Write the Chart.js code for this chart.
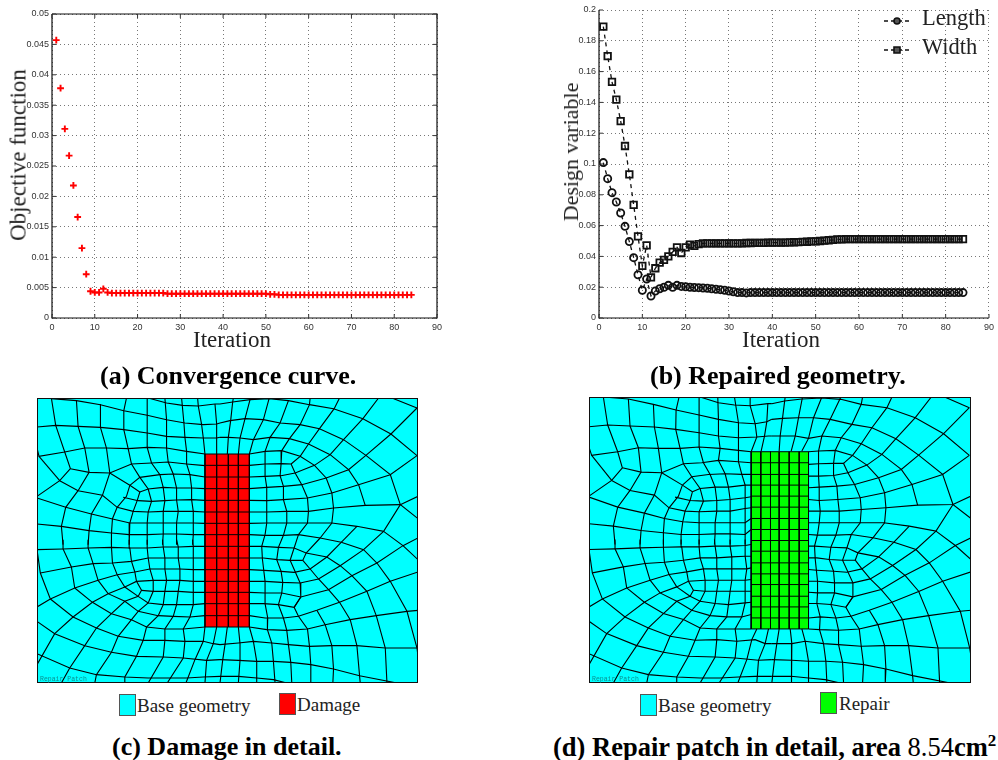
<!DOCTYPE html>
<html>
<head>
<meta charset="utf-8">
<title>Repair patch optimisation</title>
<script src="https://cdn.jsdelivr.net/npm/chart.js@4"></script>
<style>
    html, body { margin: 0; padding: 0; background: #fff; }
    #page { position: relative; width: 998px; height: 760px; overflow: hidden; font-family: "Liberation Serif", serif; color: #000; }
    canvas { position: absolute; display: block; }
    .lbl { position: absolute; white-space: nowrap; line-height: 1; }
    .axis { font-size: 23px; color: #222; }
    .rot { transform: translate(-50%, -50%) rotate(-90deg); }
    .cap { font-size: 26px; font-weight: bold; }
    .cap span { font-weight: normal; }
    .cap sup { font-size: 17px; line-height: 0; }
    .key { font-size: 19px; color: #222; }
    .swatch { position: absolute; width: 15px; height: 20px; border: 1px solid #555; }
</style>
</head>
<body>
<div id="page">
    <canvas id="chartA" width="450" height="350" style="left:0;top:0"></canvas>
    <canvas id="chartB" width="448" height="350" style="left:550px;top:0"></canvas>
    <canvas id="chartC" width="381" height="285" style="left:37px;top:398px"></canvas>
    <canvas id="chartD" width="382" height="286" style="left:589px;top:397px"></canvas>

    <div class="lbl axis" style="left:193px;top:328px">Iteration</div>
    <div class="lbl axis rot" style="left:18px;top:155px">Objective function</div>
    <div class="lbl axis" style="left:742px;top:328px">Iteration</div>
    <div class="lbl axis rot" style="left:571px;top:152px;font-size:22px">Design variable</div>

    <div class="lbl cap" style="left:100px;top:363px">(a) Convergence curve.</div>
    <div class="lbl cap" style="left:650px;top:363px">(b) Repaired geometry.</div>
    <div class="lbl cap" style="left:112px;top:734px">(c) Damage in detail.</div>
    <div class="lbl cap" style="left:553px;top:734px;font-size:26.5px">(d) Repair patch in detail, area <span>8.54</span>cm<sup>2</sup></div>

    <div class="swatch" style="left:119px;top:694px;background:#00ffff"></div>
    <div class="lbl key" style="left:137px;top:696px">Base geometry</div>
    <div class="swatch" style="left:279px;top:693px;background:#ff0000"></div>
    <div class="lbl key" style="left:297px;top:695px">Damage</div>
    <div class="swatch" style="left:640px;top:694px;background:#00ffff"></div>
    <div class="lbl key" style="left:658px;top:696px">Base geometry</div>
    <div class="swatch" style="left:820px;top:692px;background:#00ff00"></div>
    <div class="lbl key" style="left:839px;top:694px">Repair</div>
</div>
<script>
// Iteration numbers, 1 to 84
const iterations = [1,2,3,4,5,6,7,8,9,10,11,12,13,14,15,16,17,18,19,20,21,22,23,24,25,26,27,28,29,30,31,32,33,34,35,36,37,38,39,40,41,42,
    43,44,45,46,47,48,49,50,51,52,53,54,55,56,57,58,59,60,61,62,63,64,65,66,67,68,69,70,71,72,73,74,75,76,77,78,79,80,81,82,83,84];

const objective = [0.0457,0.0378,0.0311,0.0267,0.0218,0.0166,0.0115,0.0072,0.0044,0.0042,0.0042,0.0048,0.0042,0.0041,0.0041,0.0041,0.0041,0.0041,0.0041,0.0041,
    0.0041,0.0041,0.0041,0.0041,0.0041,0.0041,0.004,0.004,0.004,0.004,0.004,0.004,0.004,0.004,0.004,0.004,0.004,0.004,0.004,0.004,
    0.004,0.004,0.004,0.004,0.004,0.004,0.004,0.004,0.004,0.004,0.0039,0.0039,0.0038,0.0038,0.0038,0.0038,0.0038,0.0038,0.0038,0.0038,
    0.0038,0.0038,0.0038,0.0038,0.0038,0.0038,0.0038,0.0038,0.0038,0.0038,0.0038,0.0038,0.0038,0.0038,0.0038,0.0038,0.0038,0.0038,0.0038,0.0038,0.0038,0.0038,0.0038,0.0038];

const lengthValues = [0.1009,0.0905,0.0814,0.0753,0.0682,0.0595,0.0496,0.0392,0.0281,0.018,0.0253,0.0143,0.0175,0.019,0.02,0.0212,0.0199,0.0212,0.0205,0.0203,
    0.02,0.0198,0.0197,0.0195,0.0193,0.019,0.0187,0.0184,0.018,0.0175,0.017,0.0165,0.0165,0.0163,0.0165,0.0165,0.0165,0.0165,0.0165,0.0165,
    0.0165,0.0165,0.0165,0.0165,0.0165,0.0165,0.0165,0.0165,0.0165,0.0165,0.0165,0.0165,0.0165,0.0165,0.0165,0.0165,0.0165,0.0165,0.0165,0.0165,
    0.0165,0.0165,0.0165,0.0165,0.0165,0.0165,0.0165,0.0165,0.0165,0.0165,0.0165,0.0165,0.0165,0.0165,0.0165,0.0165,0.0165,0.0165,0.0165,0.0165,0.0165,0.0165,0.0165,0.0165];

const widthValues = [0.1892,0.1701,0.1533,0.1418,0.1279,0.1117,0.0933,0.0734,0.053,0.0338,0.0472,0.0264,0.0323,0.0359,0.0377,0.04,0.0429,0.0459,0.0422,0.0459,
    0.0476,0.0468,0.048,0.0485,0.0485,0.0485,0.0485,0.0485,0.0485,0.0485,0.0485,0.0485,0.0485,0.0487,0.0487,0.0488,0.0488,0.0488,0.0489,0.0489,
    0.049,0.049,0.049,0.0491,0.0492,0.0493,0.0494,0.0495,0.0497,0.0498,0.05,0.0503,0.0505,0.0507,0.051,0.0511,0.0512,0.0512,0.0512,0.0512,
    0.0512,0.0512,0.0512,0.0512,0.0512,0.0512,0.0512,0.0512,0.0512,0.0512,0.0512,0.0512,0.0512,0.0512,0.0512,0.0512,0.0512,0.0512,0.0512,0.0512,0.0512,0.0512,0.0512,0.0512];

const xTickLabels = ['0','10','20','30','40','50','60','70','80','90'];
const yTickLabelsA = ['0','0.005','0.01','0.015','0.02','0.025','0.03','0.035','0.04','0.045','0.05'];
const yTickLabelsB = ['0','0.02','0.04','0.06','0.08','0.1','0.12','0.14','0.16','0.18','0.2'];
const legendLabelsB = ['Length','Width'];

// Mesh polylines, flat x,y lists, one array per quadrant of the picture
const meshCTopLeft = [
    [355,10,410,25,458,32,505,34,555,28,570,28],
    [65,12,140,18,212,30,282,48,352,62,410,75,465,85,520,90,560,88,570,85],
    [22,97,78,92,145,95,212,98,282,105,352,115,410,125,465,128,520,130,560,130,570,128],
    [22,160,28,185,105,172,165,160,230,160,295,162,352,158,410,160,470,170,525,178],
    [122,222,178,233,240,235,305,208,365,205,415,202,470,208,525,213],
    [300,272,330,248,390,240,430,238,480,240,525,247],
    [330,292,355,283,400,278,440,280,485,280,525,282],
    [280,308,325,318,365,320,405,318,440,316,485,315,525,317],
    [90,258,145,288,218,302,262,338,310,350,355,352,400,350,445,350,490,350,525,352],
    [22,310,108,338,185,358,245,372,300,385,352,385,400,385,440,385,490,385,525,386],
    [22,388,95,395,178,408,245,415,298,420,352,420,400,418,440,418,490,420,525,420],
    [240,235,300,272,330,292,322,318,310,350,300,385,298,420,298,450],
    [300,272,290,305,262,338,248,372,245,415,245,450],
    [65,10,78,92,105,172,122,222,90,258,22,305],
    [28,185,90,258],
    [140,16,145,95,165,160,178,233,145,288,108,338,95,395,100,450],
    [212,28,212,98,230,160,240,235,218,302,185,358,178,408,175,450],
    [290,10,282,48,282,105,295,162,305,208,330,248,355,283,365,320,355,352,352,385,352,420,352,450],
    [352,10,352,62,352,115,352,158,365,205,390,240,400,278,405,318,400,350,400,385,400,418,398,450],
    [405,10,410,75,410,125,410,160,415,202,430,238,440,280,440,316,445,350,440,385,440,418,440,450],
    [455,10,462,85,465,128,470,170,470,208,480,240,485,280,485,315,490,350,490,385,490,420,488,450],
    [503,10,505,34,515,90,520,130,525,178],
    [555,28,560,88,560,130,560,178]
];
const meshCBottomLeft = [
    [22,30,100,28,175,25,245,23,300,25,352,25,400,22,445,22,490,20,525,20],
    [32,100,125,82,190,72,248,70,305,65,355,55,405,55,445,55,490,55,525,55],
    [62,178,135,145,205,122,262,105,315,97,360,88,405,88,450,88,490,90,525,90],
    [320,125,370,122,410,122,450,122,490,125,525,125],
    [335,152,370,155,405,155,445,155,490,158,525,158],
    [22,202,62,178,32,100,22,30],
    [262,105,285,142,325,170,355,190,400,195,440,195,490,195,525,192],
    [205,122,235,162,285,185,325,215,385,228,430,230,480,232,525,228],
    [135,145,188,188,245,222,305,240,350,262,405,268,460,268,525,262],
    [62,178,130,232,200,265,265,290,340,302,405,302,465,305,520,305,550,312,570,315],
    [22,245,75,282,165,318,245,338,320,350,400,352,460,355,530,362,570,360],
    [22,342,120,385,200,405,285,412,355,415,415,415,470,415,520,412,570,410],
    [22,375,75,282,130,232,188,188,235,162,285,142,320,125,315,97,305,65,300,25,298,0],
    [95,430,120,385,165,318,200,265,245,222,285,185,325,170,335,152,320,125],
    [195,430,200,405,245,338,265,290,305,240,325,215,355,190,370,155,370,122,360,88,355,55,352,25,352,0],
    [285,430,285,412,320,350,340,302,350,262,385,228,400,195,405,155,410,122,405,88,405,55,400,22,398,0],
    [355,430,400,352,405,302,405,268,430,230,440,195,445,155,450,122,450,88,445,55,445,22,440,0],
    [412,430,460,355,465,305,460,268,480,232,490,195,490,158,490,125,490,90,490,55,490,20,488,0],
    [468,430,495,360,520,305,525,262],
    [525,430,530,362,550,312,560,262],
    [100,0,100,28,125,82,135,145],
    [175,0,175,25,190,72,205,122],
    [245,0,245,23,248,70,262,105]
];
const meshCTopRight = [
    [0,28,38,22,90,15,147,12,205,18,268,30,340,42,428,72,512,118,590,183],
    [0,85,30,78,75,72,130,75,180,85,240,90,298,102,370,135,437,182,510,240,540,330],
    [0,128,25,128,60,130,100,135,150,128,208,132,265,148,330,180,385,225,415,270,435,332],
    [88,178,135,170,185,168,240,185,283,212,318,250,335,295,340,340,335,385,300,430],
    [88,212,135,208,183,207,213,208,225,235,245,270,262,310,265,350,262,385,235,420],
    [358,10,342,42,298,102,265,148,240,185,213,208],
    [88,247,135,245,183,243,225,235,283,212,330,180,370,135,428,72,475,10],
    [88,282,140,278,190,275,245,270,318,250,385,225,437,182,512,118,590,40],
    [88,317,140,318,190,315,262,310,335,295,415,270,510,240,590,183],
    [88,352,140,352,200,350,265,350,340,340,435,332,540,330,593,305],
    [88,386,140,385,200,385,262,385,335,385,410,395,490,410,540,330,593,372],
    [88,420,135,422,190,422,235,420,300,430,363,443],
    [410,395,363,443],
    [135,170,135,208,135,245,140,278,140,318,140,352,140,385,135,420],
    [185,168,183,207,180,243,190,275,190,315,200,350,200,385,190,422],
    [22,178,25,128,32,78,38,22,40,10],
    [55,178,60,130,75,72,90,15],
    [88,178,100,135,130,75,147,12],
    [135,170,150,128,180,85,205,18],
    [185,168,208,132,240,90,268,30,270,10],
    [515,10,590,40]
];
const meshCBottomRight = [
    [88,20,125,20,175,23,222,25,258,40,320,52,360,78,395,108,440,155,468,228,495,325,500,430],
    [88,55,130,55,172,60,210,62,248,62],
    [88,90,133,92,183,95,222,98,270,88,320,52,363,8],
    [88,125,135,125,185,128,240,130,295,118,360,78,430,30,490,-25],
    [88,158,135,160,185,160,242,172,325,150,395,108,470,70,548,18,593,-5],
    [88,192,130,192,175,195,222,203,242,172],
    [88,228,135,235,190,235,235,230,290,212,358,188,440,155,510,125,593,97],
    [88,262,140,270,200,272,262,268,315,255,390,240,468,228,560,215,593,212],
    [0,315,55,310,100,305,155,310,205,315,268,320,335,318,410,318,495,325,590,325],
    [0,360,55,362,110,365,160,365,212,368,272,375,340,388,418,408,530,430],
    [0,410,55,410,110,415,160,420,200,430],
    [22,262,15,315,8,362,0,430],
    [55,262,60,312,60,362,55,430],
    [88,262,100,305,110,365,110,430],
    [135,-15,125,20,127,58,135,125,135,192,143,235,142,270,155,310,160,365,165,430],
    [190,-13,175,23,170,60,183,95,188,128,185,160,175,195,190,235,200,272,205,315,212,368,215,430],
    [235,-15,222,25,210,62,240,130,242,172,222,203,235,230,262,268,268,320,272,375,272,430],
    [300,-5,258,40,248,62,270,88,295,118,325,150,358,188,390,240,410,318,418,408,420,430],
    [290,212,315,255,335,318,340,388,338,430],
    [363,8,430,30,470,70,510,125,560,215,590,325,593,350],
    [490,-25,548,18,593,60]
];

const meshDTopLeft = [
    [355,8,410,25,458,32,505,34,558,28,570,28],
    [65,8,140,14,215,30,283,47,352,62,410,75,470,85,520,88,555,82,570,75],
    [22,97,78,92,145,95,218,98,282,105,352,115,410,125,470,130,525,128,560,125,570,125],
    [22,158,30,183,108,172,170,160,230,162,295,162,352,158,415,162,470,168,508,172],
    [122,220,178,233,240,235,305,208,360,205,410,198,470,202,508,205],
    [302,272,330,247,380,240,430,238,480,240,508,240],
    [332,292,355,282,400,278,440,278,490,272,508,272],
    [280,308,325,318,365,320,405,318,445,315,490,310,508,307],
    [90,258,145,288,218,302,262,340,310,350,352,352,405,350,445,350,490,342,508,340],
    [22,308,108,338,188,356,248,372,303,382,352,385,400,385,445,385,490,385,508,372],
    [22,388,95,395,178,408,245,415,298,420,352,420,400,418,445,418,490,420,508,405],
    [240,235,302,272,332,292,325,318,310,350,303,382,298,420,298,450],
    [302,272,290,305,262,340,248,372,245,415,245,450],
    [65,8,78,92,108,172,122,220,90,258,22,305],
    [30,183,90,258],
    [140,14,145,95,170,160,178,233,145,288,108,338,95,395,100,450],
    [215,30,218,98,230,162,240,235,218,302,188,356,178,408,175,450],
    [292,8,283,47,282,105,295,162,305,208,330,247,355,282,365,320,352,352,352,385,352,420,352,450],
    [352,8,352,62,352,115,352,158,365,205,385,240,400,278,405,318,405,350,400,385,400,418,398,450],
    [408,8,410,75,410,125,415,162,410,198,430,238,440,278,445,315,445,350,445,385,445,418,445,450],
    [458,8,470,85,470,130,470,168,470,202,480,240,490,272,490,310,490,342,490,385,490,420,490,450],
    [505,8,505,34,520,88,525,128,508,172],
    [558,28,555,82,548,125,538,170]
];
const meshDBottomLeft = [
    [22,30,100,28,175,25,245,23,300,22,352,22,400,20,445,20,490,18,508,15],
    [32,100,125,82,190,72,248,68,305,62,355,55,405,55,450,52,490,50,508,50],
    [62,178,135,145,205,122,262,105,315,97,365,88,405,88,450,88,495,88,508,85],
    [320,125,370,122,410,122,450,122,490,122,508,120],
    [335,152,370,155,405,155,445,155,490,155,508,155],
    [22,202,62,178,32,100,22,30],
    [262,105,285,142,325,170,355,185,400,192,440,195,490,190,508,188],
    [205,122,235,160,285,185,330,212,385,228,435,232,480,232,508,225],
    [135,145,188,188,245,222,305,240,355,265,405,268,460,268,508,268],
    [62,178,130,232,200,265,265,290,340,302,405,300,465,305,520,300,550,312,570,312],
    [22,245,75,282,165,318,245,338,320,350,400,352,460,355,530,362,570,360],
    [22,342,120,385,200,405,285,412,355,415,415,415,470,412,520,410,570,410],
    [22,375,75,282,130,232,188,188,235,160,285,142,320,125,315,97,305,62,300,22,298,0],
    [95,430,120,385,165,318,200,265,245,222,285,185,325,170,335,152,320,125],
    [195,430,200,405,245,338,265,290,305,240,330,212,355,185,370,155,370,122,365,88,355,55,352,22,352,0],
    [285,430,285,412,320,350,340,302,355,265,385,228,400,192,405,155,410,122,405,88,405,55,400,20,398,0],
    [355,430,400,352,405,300,405,268,435,232,440,195,445,155,450,122,450,88,450,52,445,20,445,0],
    [412,430,460,355,465,305,460,268,480,232,490,190,490,155,490,122,495,88,490,50,490,18,490,0],
    [468,430,495,360,510,300,525,268],
    [525,430,530,362,550,312,560,268],
    [100,0,100,28,125,82,135,145],
    [175,0,175,25,190,72,205,122],
    [245,0,245,23,248,68,262,105]
];
const meshDTopRight = [
    [0,28,38,20,90,14,150,11,207,15,268,30,345,40,430,70,515,118,592,183],
    [0,75,32,72,80,70,125,70,175,75,240,90,300,100,372,133,440,182,512,240,543,330],
    [0,125,25,125,70,125,110,132,150,125,208,130,268,148,330,180,388,225,420,270,437,332],
    [110,172,140,170,190,168,242,183,285,212,320,250,338,295,342,340,338,385,303,430],
    [110,210,140,208,185,207,215,207,228,235,248,270,265,310,268,345,265,385,238,420],
    [360,8,345,40,300,100,268,148,242,183,215,207],
    [110,245,140,245,185,243,228,235,285,212,330,180,372,133,430,70,478,8],
    [110,280,142,278,195,275,248,270,320,250,388,225,440,182,515,118,592,40],
    [110,315,142,318,198,315,265,310,338,295,420,270,512,240,592,183],
    [110,350,145,350,202,350,268,345,342,340,437,332,543,330,597,305],
    [110,385,142,385,202,385,265,385,335,385,412,395,492,410,543,330,597,372],
    [110,420,137,422,192,422,238,420,303,430,366,443],
    [412,395,366,443],
    [140,170,140,208,140,245,142,278,142,318,145,350,142,385,137,420],
    [190,168,185,207,185,243,195,275,198,315,202,350,202,385,192,422],
    [22,170,25,125,32,72,40,8],
    [58,170,70,125,80,70,92,8],
    [90,170,110,132,125,70,150,8],
    [140,170,150,125,175,75,207,8],
    [190,168,208,130,240,90,268,30,272,8],
    [518,8,592,40]
];
const meshDBottomRight = [
    [110,20,128,20,177,23,225,25,258,40,320,52,362,78,400,108,440,155,470,228,498,325,503,430],
    [110,55,135,55,172,60,212,62,250,62],
    [110,90,135,92,185,95,225,98,270,88,320,52,366,8],
    [110,125,137,125,188,130,243,130,295,118,362,78,432,30,492,-25],
    [110,158,137,160,188,160,243,172,328,150,398,108,472,70,550,18,597,-5],
    [110,192,135,192,177,195,222,203,243,172],
    [110,235,145,232,192,235,237,230,292,212,360,188,442,155,512,125,597,97],
    [110,268,143,270,200,272,262,268,318,255,392,240,470,228,565,215,597,212],
    [0,312,60,312,100,305,155,312,200,315,268,320,338,318,410,318,498,325,593,325],
    [0,360,60,362,110,365,162,365,212,368,275,375,342,388,422,408,535,430],
    [0,410,58,410,110,415,160,420,205,430],
    [22,268,15,312,8,360,0,430],
    [55,268,60,312,60,362,58,430],
    [90,268,100,305,110,365,110,430],
    [137,-15,128,20,130,58,137,125,137,160,135,192,145,232,143,270,155,312,162,365,165,430],
    [192,-13,177,23,172,60,185,95,188,130,188,160,177,195,192,235,200,272,200,315,212,368,215,430],
    [238,-15,225,25,212,62,243,130,243,172,222,203,237,230,262,268,268,320,275,375,272,430],
    [303,-5,258,40,250,62,270,88,295,118,328,150,360,188,392,240,410,318,422,408,424,430],
    [292,212,318,255,338,318,342,388,340,430],
    [366,8,432,30,472,70,512,125,565,215,593,325,597,350],
    [492,-25,550,18,597,60]
];

// Patch cell edges in the same mesh units
const patchColsC = [525,560,595,625,658];
const patchRowsC = [178,212,247,282,317,352,386,420,455,490,525,560,593,627,663,697];
const patchColsD = [508,537,566,592,622,652,680];
const patchRowsD = [172,205,240,272,305,338,372,405,438,470,505,538,570,605,637,670,703];

const MESH_DX = 570, MESH_DY = 435;
const GRID_DASH = [1, 3];
const TICK_FONT = { family: 'Liberation Sans', size: 9 };

const shifted = (lines, dx, dy) => lines.map(l => l.map((v, i) => v + (i % 2 ? dy : dx)));

function toPoints(flat) {
    const pts = [];
    for (let i = 0; i < flat.length; i += 2) pts.push({ x: flat[i], y: flat[i + 1] });
    return pts;
}

// Matlab style box: short inner ticks and an axis frame
function framePlugin(closed) {
    return {
        id: 'frame',
        afterDraw(chart) {
            const { ctx, chartArea: a, scales } = chart;
            ctx.save();
            ctx.strokeStyle = '#111';
            ctx.lineWidth = 1.2;
            ctx.beginPath();
            ctx.moveTo(a.left, a.top);
            ctx.lineTo(a.left, a.bottom);
            ctx.lineTo(a.right, a.bottom);
            if (closed) {
                ctx.lineTo(a.right, a.top);
                ctx.lineTo(a.left, a.top);
            }
            ctx.stroke();
            ctx.lineWidth = 1;
            ctx.strokeStyle = '#333';
            ctx.beginPath();
            scales.x.ticks.forEach(t => {
                const px = scales.x.getPixelForValue(t.value);
                ctx.moveTo(px, a.bottom);
                ctx.lineTo(px, a.bottom - 4);
                if (closed) {
                    ctx.moveTo(px, a.top);
                    ctx.lineTo(px, a.top + 4);
                }
            });
            scales.y.ticks.forEach(t => {
                const py = scales.y.getPixelForValue(t.value);
                ctx.moveTo(a.left, py);
                ctx.lineTo(a.left + 4, py);
                if (closed) {
                    ctx.moveTo(a.right, py);
                    ctx.lineTo(a.right - 4, py);
                }
            });
            ctx.stroke();
            ctx.restore();
        }
    };
}

function legendPluginB() {
    return {
        id: 'legendB',
        afterDraw(chart) {
            const { ctx } = chart;
            const rows = [
                { y: 21, style: 'circle' },
                { y: 50, style: 'rect' }
            ];
            ctx.save();
            rows.forEach((r, i) => {
                ctx.strokeStyle = '#111';
                ctx.lineWidth = 1.3;
                ctx.setLineDash([4, 3]);
                ctx.beginPath();
                ctx.moveTo(334, r.y);
                ctx.lineTo(361, r.y);
                ctx.stroke();
                ctx.setLineDash([]);
                ctx.lineWidth = 1.6;
                ctx.fillStyle = '#555';
                ctx.beginPath();
                if (r.style === 'circle') ctx.arc(347, r.y, 3, 0, Math.PI * 2);
                else ctx.rect(344, r.y - 3, 6, 6);
                ctx.fill();
                ctx.stroke();
                ctx.fillStyle = '#222';
                ctx.font = '22.5px "Liberation Serif"';
                ctx.textBaseline = 'middle';
                ctx.fillText(legendLabelsB[i], 372, r.y - 2);
            });
            ctx.restore();
        }
    };
}

function plotOptions(yMax, yStep, yLabels, leftPx, topPx, bottomSpace, rightPx) {
    return {
        responsive: false,
        animation: false,
        layout: { padding: { top: topPx, right: rightPx, left: 0, bottom: 0 } },
        plugins: { legend: { display: false }, tooltip: { enabled: false } },
        scales: {
            x: {
                type: 'linear', min: 0, max: 90,
                afterFit: s => { s.height = bottomSpace; },
                grid: { color: '#777', lineWidth: 1, tickLength: 0 },
                border: { display: false, dash: GRID_DASH },
                ticks: {
                    stepSize: 10, padding: 4, color: '#333', font: TICK_FONT, maxRotation: 0, autoSkip: false,
                    callback: (v, i) => xTickLabels[i]
                }
            },
            y: {
                type: 'linear', min: 0, max: yMax,
                afterFit: s => { s.width = leftPx; },
                grid: { color: '#777', lineWidth: 1, tickLength: 0 },
                border: { display: false, dash: GRID_DASH },
                ticks: {
                    stepSize: yStep, padding: 3, color: '#333', font: TICK_FONT, autoSkip: false,
                    callback: (v, i) => yLabels[i]
                }
            }
        }
    };
}

new Chart(document.getElementById('chartA'), {
    type: 'scatter',
    data: {
        datasets: [{
            label: 'Objective function',
            data: iterations.map((x, i) => ({ x, y: objective[i] })),
            pointStyle: 'cross', pointRadius: 3.4, pointBorderWidth: 1.9, pointBorderColor: '#ff0000', showLine: false
        }]
    },
    options: plotOptions(0.05, 0.005, yTickLabelsA, 52, 14, 32, 13),
    plugins: [framePlugin(true)]
});

new Chart(document.getElementById('chartB'), {
    type: 'line',
    data: {
        datasets: [
            {
                label: legendLabelsB[0],
                data: iterations.map((x, i) => ({ x, y: lengthValues[i] })),
                borderColor: '#111', borderWidth: 1.3, borderDash: [4, 4], tension: 0,
                pointStyle: 'circle', pointRadius: 3.6, pointBorderWidth: 1.8, pointBorderColor: '#111', pointBackgroundColor: 'transparent'
            },
            {
                label: legendLabelsB[1],
                data: iterations.map((x, i) => ({ x, y: widthValues[i] })),
                borderColor: '#111', borderWidth: 1.3, borderDash: [4, 4], tension: 0,
                pointStyle: 'rect', pointRadius: 4.6, pointBorderWidth: 1.8, pointBorderColor: '#111', pointBackgroundColor: 'transparent'
            }
        ]
    },
    options: plotOptions(0.2, 0.02, yTickLabelsB, 49, 10, 32, 8),
    plugins: [framePlugin(false), legendPluginB()]
});

function meshChart(id, quads, cols, rows, fillColor, xMax, yMin) {
    const lines = [
        ...quads[0],
        ...shifted(quads[1], 0, MESH_DY),
        ...shifted(quads[2], MESH_DX, 0),
        ...shifted(quads[3], MESH_DX, MESH_DY)
    ];
    const left = cols[0], right = cols[cols.length - 1];
    const top = rows[0], bottom = rows[rows.length - 1];

    const datasets = lines.map(l => ({ data: toPoints(l), borderColor: '#000', borderWidth: 1.1, order: 2 }));
    rows.forEach(r => datasets.push({ data: [{ x: left, y: r }, { x: right, y: r }], borderColor: '#000', borderWidth: 1, order: 1 }));
    cols.forEach(c => datasets.push({ data: [{ x: c, y: top }, { x: c, y: bottom }], borderColor: '#000', borderWidth: 1, order: 1 }));
    datasets.push({
        data: [{ x: left, y: top }, { x: right, y: top }],
        borderColor: fillColor, borderWidth: 0, backgroundColor: fillColor,
        fill: { value: bottom }, order: 3
    });

    new Chart(document.getElementById(id), {
        type: 'scatter',
        data: { datasets },
        options: {
            responsive: false,
            animation: false,
            showLine: true,
            elements: { point: { radius: 0 }, line: { tension: 0 } },
            layout: { padding: 0 },
            plugins: { legend: { display: false }, tooltip: { enabled: false } },
            scales: {
                x: { type: 'linear', display: false, min: 22, max: xMax },
                y: { type: 'linear', display: false, min: yMin, max: 865, reverse: true }
            }
        },
        plugins: [{
            id: 'meshFrame',
            beforeDraw(chart) {
                const { ctx, chartArea: a } = chart;
                ctx.fillStyle = '#00ffff';
                ctx.fillRect(a.left, a.top, a.width, a.height);
            },
            afterDraw(chart) {
                const { ctx, chartArea: a } = chart;
                ctx.save();
                ctx.strokeStyle = '#111';
                ctx.lineWidth = 1;
                ctx.strokeRect(a.left + 0.5, a.top + 0.5, a.width - 1, a.height - 1);
                ctx.fillStyle = '#0a8f8f';
                ctx.font = '6.5px "Liberation Mono"';
                ctx.fillText('Repair Patch', a.left + 3, a.bottom - 2);
                ctx.restore();
            }
        }]
    });
}

meshChart('chartC', [meshCTopLeft, meshCBottomLeft, meshCTopRight, meshCBottomRight], patchColsC, patchRowsC, '#ff0000', 1163, 10);
meshChart('chartD', [meshDTopLeft, meshDBottomLeft, meshDTopRight, meshDBottomRight], patchColsD, patchRowsD, '#00ff00', 1167, 8);
</script>
</body>
</html>
